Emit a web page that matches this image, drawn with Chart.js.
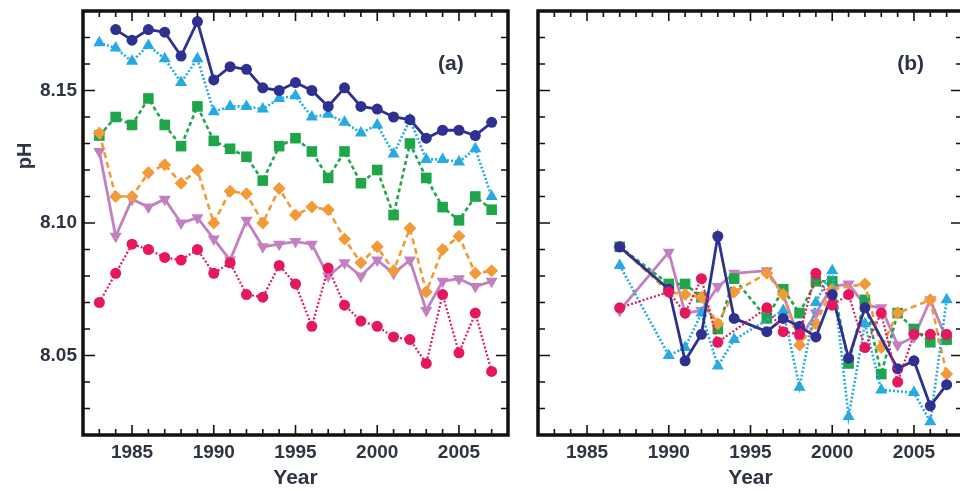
<!DOCTYPE html>
<html>
<head>
<meta charset="utf-8">
<script src="https://cdn.jsdelivr.net/npm/chart.js@4/dist/chart.umd.min.js"></script>
<style>
    html, body { margin: 0; padding: 0; background: #fff; }
    #wrap { position: relative; width: 960px; height: 491px; overflow: hidden; }
    #chartA { position: absolute; left: 0; top: 0; }
    #chartB { position: absolute; left: 520px; top: 0; }
</style>
</head>
<body>
<div id="wrap">
    <canvas id="chartA" width="520" height="491"></canvas>
    <canvas id="chartB" width="455" height="491"></canvas>
</div>
<script>
// Years sampled in each panel
const yearsA = [1983, 1984, 1985, 1986, 1987, 1988, 1989, 1990, 1991, 1992, 1993, 1994, 1995,
    1996, 1997, 1998, 1999, 2000, 2001, 2002, 2003, 2004, 2005, 2006, 2007];
const yearsB = [1987, 1990, 1991, 1992, 1993, 1994, 1995, 1996, 1997, 1998, 1999, 2000, 2001,
    2002, 2003, 2004, 2005, 2006, 2007];

// Panel (a) pH values
const navyA = [null, 8.173, 8.169, 8.173, 8.172, 8.163, 8.176, 8.154, 8.159, 8.158, 8.151, 8.150, 8.153,
    8.150, 8.144, 8.151, 8.144, 8.143, 8.140, 8.139, 8.132, 8.135, 8.135, 8.133, 8.138];
const cyanA = [8.168, 8.166, 8.161, 8.167, 8.162, 8.153, 8.162, 8.142, 8.144, 8.144, 8.143, 8.147, 8.148,
    8.140, 8.141, 8.138, 8.134, 8.137, 8.126, 8.139, 8.124, 8.124, 8.123, 8.128, 8.110];
const greenA = [8.133, 8.140, 8.137, 8.147, 8.137, 8.129, 8.144, 8.131, 8.128, 8.125, 8.116, 8.129, 8.132,
    8.127, 8.117, 8.127, 8.115, 8.120, 8.103, 8.130, 8.117, 8.106, 8.101, 8.110, 8.105];
const orangeA = [8.134, 8.110, 8.110, 8.119, 8.122, 8.115, 8.120, 8.100, 8.112, 8.111, 8.100, 8.113, 8.103,
    8.106, 8.105, 8.094, 8.085, 8.091, 8.082, 8.098, 8.074, 8.090, 8.095, 8.081, 8.082];
const lavenderA = [8.127, 8.095, 8.109, 8.106, 8.109, 8.100, 8.102, 8.094, 8.086, 8.101, 8.091, 8.092, 8.093,
    8.092, 8.080, 8.085, 8.080, 8.086, 8.081, 8.086, 8.067, 8.078, 8.079, 8.076, 8.078];
const magentaA = [8.070, 8.081, 8.092, 8.090, 8.087, 8.086, 8.090, 8.081, 8.085, 8.073, 8.072, 8.084, 8.077,
    8.061, 8.083, 8.069, 8.063, 8.061, 8.057, 8.056, 8.047, 8.073, 8.051, 8.066, 8.044];

// Panel (b) pH values
const navyB = [8.091, 8.075, 8.048, 8.058, 8.095, 8.064, null, 8.059, 8.064, 8.061, 8.057, 8.073, 8.049,
    8.068, null, 8.045, 8.048, 8.031, 8.039];
const cyanB = [8.084, 8.050, 8.053, 8.066, 8.046, 8.056, null, null, 8.067, 8.038, 8.070, 8.082, 8.027,
    8.062, 8.037, null, 8.036, 8.025, 8.071];
const greenB = [8.091, 8.077, 8.077, 8.072, 8.060, 8.079, null, 8.064, 8.075, 8.066, 8.078, 8.078, 8.047,
    8.071, 8.043, 8.066, 8.060, 8.055, 8.056];
const orangeB = [8.091, 8.074, 8.073, 8.072, 8.062, 8.074, null, 8.081, 8.073, 8.054, 8.062, 8.075, null,
    8.077, 8.053, 8.066, null, 8.071, 8.043];
const lavenderB = [8.067, 8.089, 8.066, 8.067, 8.076, 8.081, null, 8.082, 8.073, 8.056, 8.066, 8.076, 8.077,
    8.069, 8.068, 8.054, 8.057, 8.071, 8.056];
const magentaB = [8.068, 8.074, 8.066, 8.079, 8.055, null, null, 8.068, 8.059, 8.058, 8.081, 8.069, 8.073,
    8.053, 8.066, 8.040, 8.058, 8.058, 8.058];

const textColor = '#2d3442';

// Series look
const styles = {
    navy:     { color: '#2e3192', point: 'circle',   radius: 5.5, dash: [],     width: 2.8, rot: 0 },
    cyan:     { color: '#27aae1', point: 'triangle', radius: 7,   dash: [2, 2], width: 2.6, rot: 0 },
    orange:   { color: '#f39a38', point: 'rectRot',  radius: 6.5, dash: [6, 4], width: 2.6, rot: 0 },
    magenta:  { color: '#e4175f', point: 'circle',   radius: 5.5, dash: [2, 2], width: 2.2, rot: 0 },
    green:    { color: '#1fa54a', point: 'rect',     radius: 7.5, dash: [4, 3], width: 2.6, rot: 0 },
    lavender: { color: '#c280c0', point: 'triangle', radius: 7,   dash: [],     width: 2.8, rot: 180 }
};

function makeDataset(key, years, values) {
    const s = styles[key];
    return {
        label: key,
        data: years.map((yr, i) => ({ x: yr, y: values[i] })),
        borderColor: s.color,
        backgroundColor: s.color,
        borderWidth: s.width,
        borderDash: s.dash,
        pointStyle: s.point,
        pointRadius: s.radius,
        pointRotation: s.rot,
        pointBorderWidth: 0,
        tension: 0,
        spanGaps: true
    };
}

// Inward ticks, frame, panel tag and pH label
const frameTicks = {
    id: 'frameTicks',
    afterDatasetsDraw(chart, args, opts) {
        const { ctx, chartArea: a, scales: { x, y } } = chart;
        ctx.save();
        ctx.strokeStyle = '#111';
        ctx.lineWidth = 1.6;
        ctx.beginPath();
        x.ticks.forEach(t => {
            const px = x.getPixelForValue(t.value);
            const len = Math.round(t.value) % 5 === 0 ? 10 : 6;
            ctx.moveTo(px, a.bottom); ctx.lineTo(px, a.bottom - len);
            ctx.moveTo(px, a.top); ctx.lineTo(px, a.top + len);
        });
        y.ticks.forEach(t => {
            const py = y.getPixelForValue(t.value);
            const len = Math.round(t.value * 100) % 5 === 0 ? 12 : 7;
            ctx.moveTo(a.left, py); ctx.lineTo(a.left + len, py);
            ctx.moveTo(a.right, py); ctx.lineTo(a.right - len, py);
        });
        ctx.stroke();
        ctx.lineWidth = 3.5;
        ctx.strokeRect(a.left, a.top, a.right - a.left, a.bottom - a.top);

        ctx.fillStyle = textColor;
        ctx.textAlign = 'center';
        ctx.textBaseline = 'middle';
        ctx.font = 'bold 21px "Liberation Sans", Arial, sans-serif';
        ctx.fillText(opts.tag, x.getPixelForValue(opts.tagX), y.getPixelForValue(opts.tagY));
        if (opts.yTitle) {
            ctx.translate(25, 156);
            ctx.rotate(-Math.PI / 2);
            ctx.font = 'bold 20px "Liberation Sans", Arial, sans-serif';
            ctx.fillText(opts.yTitle, 0, 0);
        }
        ctx.restore();
    }
};

function renderPanel(id, years, series, yAxisWidth, showYLabels, tag, tagX) {
    const ctx = document.getElementById(id);
    return new Chart(ctx, {
        type: 'line',
        data: {
            // first dataset is drawn on top
            datasets: [
                makeDataset('magenta', years, series.magenta),
                makeDataset('navy', years, series.navy),
                makeDataset('cyan', years, series.cyan),
                makeDataset('orange', years, series.orange),
                makeDataset('green', years, series.green),
                makeDataset('lavender', years, series.lavender)
            ]
        },
        options: {
            responsive: false,
            animation: false,
            layout: { padding: { left: 0, top: 11, right: 12, bottom: 0 } },
            plugins: {
                legend: { display: false },
                tooltip: { enabled: false },
                frameTicks: { tag: tag, tagX: tagX, tagY: 8.160, yTitle: showYLabels ? 'pH' : '' }
            },
            scales: {
                x: {
                    type: 'linear',
                    min: 1982,
                    max: 2008,
                    grid: { display: false, drawTicks: false },
                    border: { display: false },
                    afterFit: (scale) => {
                        scale.height = 56;
                        scale.paddingLeft = 0;
                        scale.paddingRight = 0;
                    },
                    ticks: {
                        stepSize: 1,
                        autoSkip: false,
                        maxRotation: 0,
                        padding: 6,
                        color: textColor,
                        font: { family: '"Liberation Sans", Arial, sans-serif', size: 19, weight: 'bold' },
                        callback: (v) => (Math.round(v) % 5 === 0 ? String(Math.round(v)) : '')
                    },
                    title: {
                        display: true,
                        text: 'Year',
                        color: textColor,
                        padding: { top: 0, bottom: 0 },
                        font: { family: '"Liberation Sans", Arial, sans-serif', size: 21, weight: 'bold' }
                    }
                },
                y: {
                    min: 8.02,
                    max: 8.18,
                    grid: { display: false, drawTicks: false },
                    border: { display: false },
                    afterFit: (scale) => {
                        scale.width = yAxisWidth;
                        scale.paddingTop = 0;
                        scale.paddingBottom = 0;
                    },
                    ticks: {
                        stepSize: 0.01,
                        autoSkip: false,
                        padding: 6,
                        color: textColor,
                        font: { family: '"Liberation Sans", Arial, sans-serif', size: 19, weight: 'bold' },
                        callback: (v) => {
                            if (!showYLabels) return '';
                            return Math.round(v * 100) % 5 === 0 ? v.toFixed(2) : '';
                        }
                    }
                }
            }
        },
        plugins: [frameTicks]
    });
}

renderPanel('chartA', yearsA,
    { navy: navyA, cyan: cyanA, green: greenA, orange: orangeA, lavender: lavenderA, magenta: magentaA },
    83, true, '(a)', 2004.5);
renderPanel('chartB', yearsB,
    { navy: navyB, cyan: cyanB, green: greenB, orange: orangeB, lavender: lavenderB, magenta: magentaB },
    18, false, '(b)', 2004.8);
</script>
</body>
</html>
